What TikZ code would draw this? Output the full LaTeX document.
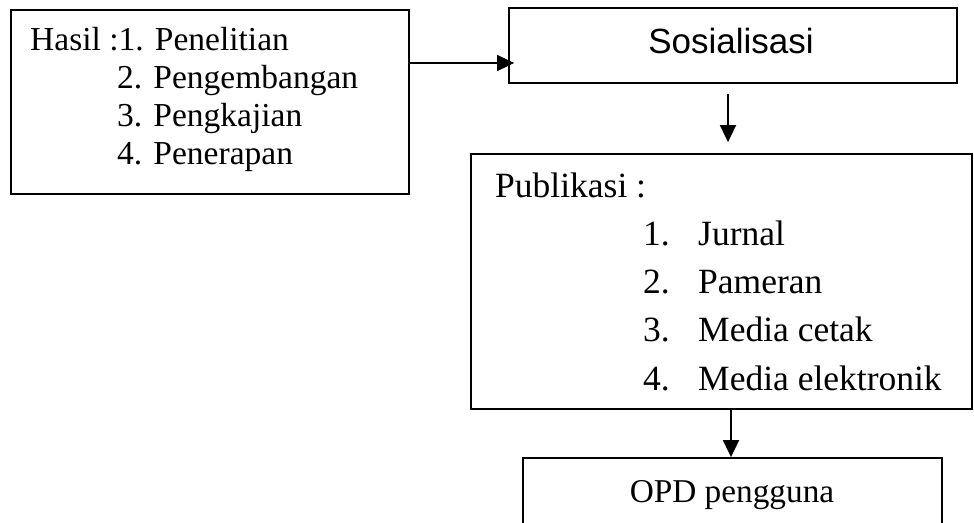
\documentclass[tikz,border=0pt]{standalone}
\usepackage{fontspec}
\setmainfont{Liberation Serif}
\newfontfamily\arialfont{Liberation Sans}
\usetikzlibrary{arrows.meta}
\tikzset{
  box/.style={draw=black, line width=1.8pt, rectangle, inner sep=0pt, fill=none},
  arr/.style={draw=black, line width=1.8pt, -{Triangle[length=17pt,width=16pt]}},
  txt/.style={anchor=base west, inner sep=0pt, font=\fontsize{33.5}{38}\selectfont},
  txtb/.style={anchor=base west, inner sep=0pt, font=\fontsize{35.5}{40}\selectfont},
}
\begin{document}
\begin{tikzpicture}[x=1pt,y=-1pt]
\useasboundingbox (0,0) rectangle (974,522);
\clip (0,0) rectangle (974,522);
\fill[white] (0,0) rectangle (974,522);
% boxes
\node[box, minimum width=398pt, minimum height=184pt] (b1) at (210,102) {};
\node[box, minimum width=448pt, minimum height=75pt] (b2) at (733,45.5) {};
\node[box, minimum width=501pt, minimum height=255pt] (b3) at (721.5,281.5) {};
\node[box, minimum width=419pt, minimum height=102pt] (b4) at (732.5,509) {};
% texts box 1
\node[txt] (h1) at (30,50) {Hasil :1. Penelitian};
\node[txt] (h2) at (117,88) {2. Pengembangan};
\node[txt] (h3) at (117,126) {3. Pengkajian};
\node[txt] (h4) at (117,164) {4. Penerapan};
% box 2
\node[anchor=base, inner sep=0pt, font=\arialfont\fontsize{35}{40}\selectfont] (s) at (731,53) {Sosialisasi};
% box 3
\node[txtb] (p0) at (495,197) {Publikasi :};
\node[txtb] (n1) at (643,245) {1.};
\node[txtb] (t1) at (698,245) {Jurnal};
\node[txtb] (n2) at (643,293) {2.};
\node[txtb] (t2) at (698,293) {Pameran};
\node[txtb] (n3) at (643,341) {3.};
\node[txtb] (t3) at (698,341) {Media cetak};
\node[txtb] (n4) at (643,390) {4.};
\node[txtb] (t4) at (698,390) {Media elektronik};
% box 4
\node[anchor=base, inner sep=0pt, font=\fontsize{33.3}{38}\selectfont] (o) at (732,502) {OPD pengguna};
% connectors
\coordinate (a1) at (0,63);
\coordinate (a2) at (728,0);
\coordinate (a3) at (731,0);
\draw[arr, shorten >=-6pt] (b1.east |- a1) -- (b2.west |- a1);
\draw[arr, shorten <=10pt, shorten >=11pt] (b2.south -| a2) -- (b3.north -| a2);
\draw[arr] (b3.south -| a3) -- (b4.north -| a3);
\end{tikzpicture}
\end{document}
